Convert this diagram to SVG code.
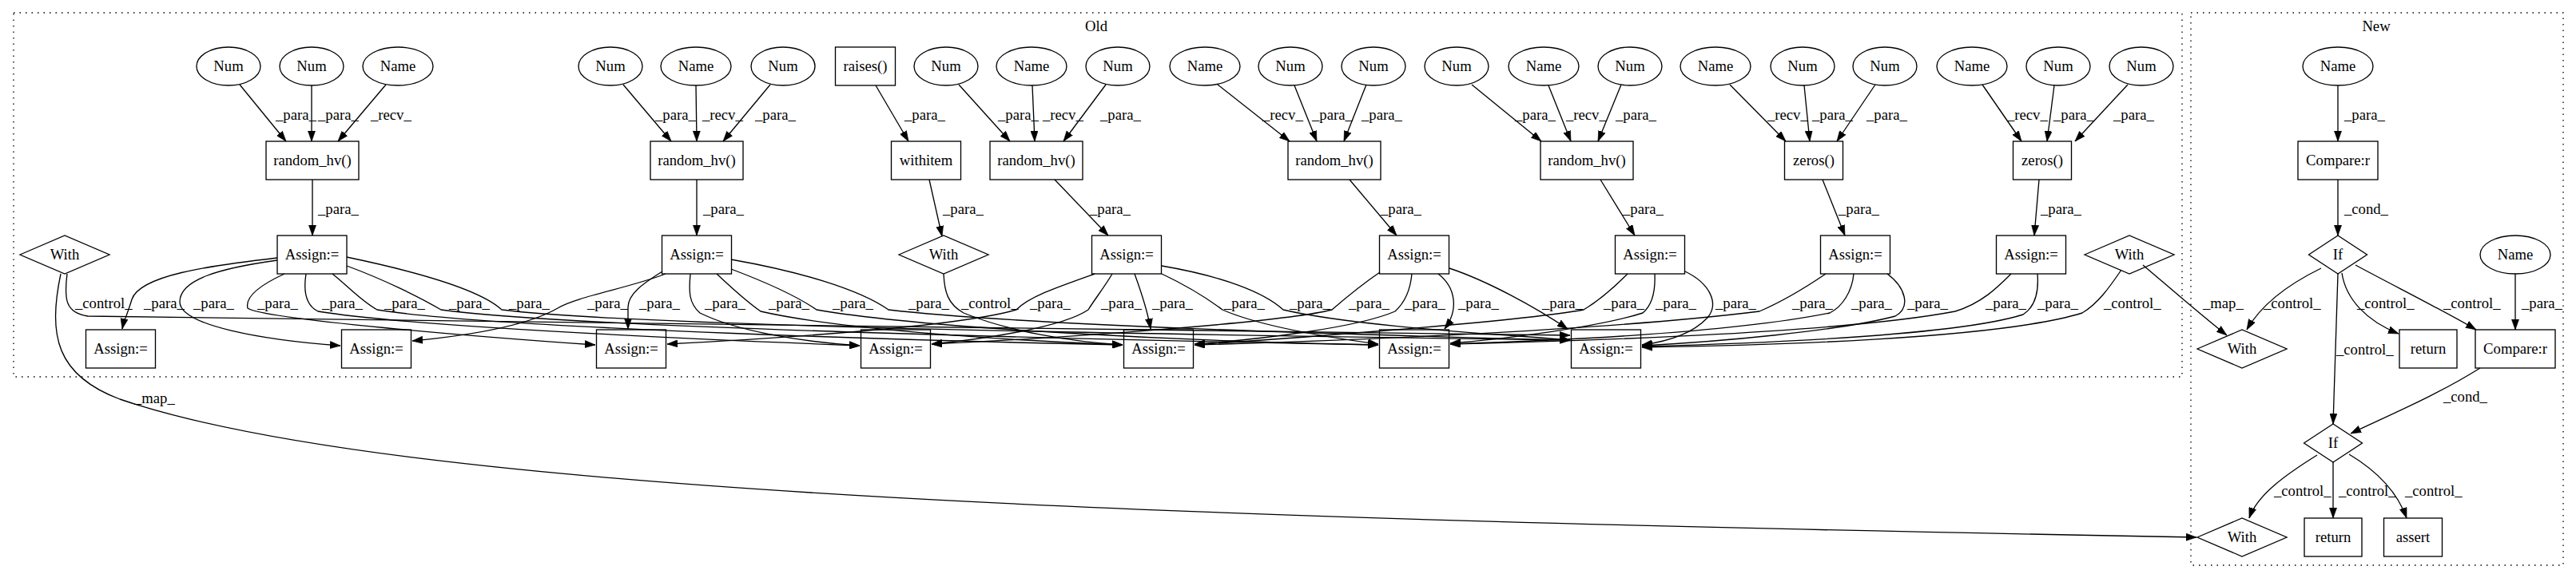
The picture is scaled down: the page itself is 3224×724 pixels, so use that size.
<svg xmlns="http://www.w3.org/2000/svg" width="3224" height="724" viewBox="0 0 3224 724">
<style>
.s{fill:none;stroke:#000;stroke-width:1.33}
.c{fill:none;stroke:#000;stroke-width:1.33;stroke-dasharray:1.5,6}
.t{font-family:"Liberation Serif","Times New Roman",serif;font-size:18.67px;text-anchor:middle;fill:#000}
.l{font-family:"Liberation Serif","Times New Roman",serif;font-size:18.67px;text-anchor:start;fill:#000}
.e{fill:none;stroke:#000;stroke-width:1.33;marker-end:url(#a)}
.m{fill:none;stroke:#000;stroke-width:1.33}
</style>
<defs>
<marker id="a" viewBox="0 0 10 7" refX="10" refY="3.5" markerWidth="13" markerHeight="9.5" markerUnits="userSpaceOnUse" orient="auto">
<path d="M0,0 L10,3.5 L0,7 z" fill="#000" stroke="#000" stroke-width="0.5"/>
</marker>
</defs>
<rect x="0" y="0" width="3224" height="724" fill="#fff"/>
<g id="clusters">
<rect class="c" x="17" y="16" width="2714" height="456"/>
<text class="t" x="1372" y="39">Old</text>
<rect class="c" x="2742" y="16" width="466" height="692"/>
<text class="t" x="2974" y="39">New</text>
</g>
<!-- top ellipses -->
<g id="n_num1"><ellipse class="s" cx="286" cy="83" rx="40" ry="24"/><text class="t" x="286" y="89">Num</text></g>
<g id="n_num2"><ellipse class="s" cx="390" cy="83" rx="40" ry="24"/><text class="t" x="390" y="89">Num</text></g>
<g id="n_name1"><ellipse class="s" cx="498" cy="83" rx="44" ry="24"/><text class="t" x="498" y="89">Name</text></g>
<g id="n_num3"><ellipse class="s" cx="764" cy="83" rx="40" ry="24"/><text class="t" x="764" y="89">Num</text></g>
<g id="n_name2"><ellipse class="s" cx="871" cy="83" rx="44" ry="24"/><text class="t" x="871" y="89">Name</text></g>
<g id="n_num4"><ellipse class="s" cx="980" cy="83" rx="40" ry="24"/><text class="t" x="980" y="89">Num</text></g>
<g id="n_raises"><rect class="s" x="1045.5" y="59" width="75" height="48"/><text class="t" x="1083" y="89">raises()</text></g>
<g id="n_num5"><ellipse class="s" cx="1184" cy="83" rx="40" ry="24"/><text class="t" x="1184" y="89">Num</text></g>
<g id="n_name3"><ellipse class="s" cx="1291" cy="83" rx="44" ry="24"/><text class="t" x="1291" y="89">Name</text></g>
<g id="n_num6"><ellipse class="s" cx="1399" cy="83" rx="40" ry="24"/><text class="t" x="1399" y="89">Num</text></g>
<g id="n_name4"><ellipse class="s" cx="1508" cy="83" rx="44" ry="24"/><text class="t" x="1508" y="89">Name</text></g>
<g id="n_num7"><ellipse class="s" cx="1615" cy="83" rx="40" ry="24"/><text class="t" x="1615" y="89">Num</text></g>
<g id="n_num8"><ellipse class="s" cx="1719" cy="83" rx="40" ry="24"/><text class="t" x="1719" y="89">Num</text></g>
<g id="n_num9"><ellipse class="s" cx="1823" cy="83" rx="40" ry="24"/><text class="t" x="1823" y="89">Num</text></g>
<g id="n_name5"><ellipse class="s" cx="1932" cy="83" rx="44" ry="24"/><text class="t" x="1932" y="89">Name</text></g>
<g id="n_num10"><ellipse class="s" cx="2040" cy="83" rx="40" ry="24"/><text class="t" x="2040" y="89">Num</text></g>
<g id="n_name6"><ellipse class="s" cx="2147" cy="83" rx="44" ry="24"/><text class="t" x="2147" y="89">Name</text></g>
<g id="n_num11"><ellipse class="s" cx="2256" cy="83" rx="40" ry="24"/><text class="t" x="2256" y="89">Num</text></g>
<g id="n_num12"><ellipse class="s" cx="2359" cy="83" rx="40" ry="24"/><text class="t" x="2359" y="89">Num</text></g>
<g id="n_name7"><ellipse class="s" cx="2468" cy="83" rx="44" ry="24"/><text class="t" x="2468" y="89">Name</text></g>
<g id="n_num13"><ellipse class="s" cx="2576" cy="83" rx="40" ry="24"/><text class="t" x="2576" y="89">Num</text></g>
<g id="n_num14"><ellipse class="s" cx="2680" cy="83" rx="40" ry="24"/><text class="t" x="2680" y="89">Num</text></g>
<g id="n_name8"><ellipse class="s" cx="2926" cy="83" rx="44" ry="24"/><text class="t" x="2926" y="89">Name</text></g>
<!-- row 2 -->
<g id="n_rhv1"><rect class="s" x="333" y="177" width="116" height="48"/><text class="t" x="391" y="207">random_hv()</text></g>
<g id="n_rhv2"><rect class="s" x="814" y="177" width="116" height="48"/><text class="t" x="872" y="207">random_hv()</text></g>
<g id="n_withitem"><rect class="s" x="1115.5" y="177" width="87" height="48"/><text class="t" x="1159" y="207">withitem</text></g>
<g id="n_rhv3"><rect class="s" x="1239" y="177" width="116" height="48"/><text class="t" x="1297" y="207">random_hv()</text></g>
<g id="n_rhv4"><rect class="s" x="1612" y="177" width="116" height="48"/><text class="t" x="1670" y="207">random_hv()</text></g>
<g id="n_rhv5"><rect class="s" x="1928" y="177" width="116" height="48"/><text class="t" x="1986" y="207">random_hv()</text></g>
<g id="n_zeros1"><rect class="s" x="2233.5" y="177" width="73" height="48"/><text class="t" x="2270" y="207">zeros()</text></g>
<g id="n_zeros2"><rect class="s" x="2519.5" y="177" width="73" height="48"/><text class="t" x="2556" y="207">zeros()</text></g>
<g id="n_cmp1"><rect class="s" x="2876" y="177" width="100" height="48"/><text class="t" x="2926" y="207">Compare:r</text></g>
<!-- row 3 -->
<g id="n_withL"><polygon class="s" points="25,319 81,295 137,319 81,343"/><text class="t" x="81" y="325">With</text></g>
<g id="n_a1"><rect class="s" x="347" y="295" width="87" height="48"/><text class="t" x="390.5" y="325">Assign:=</text></g>
<g id="n_a2"><rect class="s" x="828.5" y="295" width="87" height="48"/><text class="t" x="872" y="325">Assign:=</text></g>
<g id="n_withM"><polygon class="s" points="1125,319 1181,295 1237,319 1181,343"/><text class="t" x="1181" y="325">With</text></g>
<g id="n_a3"><rect class="s" x="1366.5" y="295" width="87" height="48"/><text class="t" x="1410" y="325">Assign:=</text></g>
<g id="n_a4"><rect class="s" x="1726.5" y="295" width="87" height="48"/><text class="t" x="1770" y="325">Assign:=</text></g>
<g id="n_a5"><rect class="s" x="2021.5" y="295" width="87" height="48"/><text class="t" x="2065" y="325">Assign:=</text></g>
<g id="n_a6"><rect class="s" x="2278.5" y="295" width="87" height="48"/><text class="t" x="2322" y="325">Assign:=</text></g>
<g id="n_a7"><rect class="s" x="2498.5" y="295" width="87" height="48"/><text class="t" x="2542" y="325">Assign:=</text></g>
<g id="n_withR"><polygon class="s" points="2609,319 2665,295 2721,319 2665,343"/><text class="t" x="2665" y="325">With</text></g>
<g id="n_if1"><polygon class="s" points="2889.5,319 2926,295 2962.5,319 2926,343"/><text class="t" x="2926" y="325">If</text></g>
<g id="n_name9"><ellipse class="s" cx="3148" cy="319" rx="44" ry="24"/><text class="t" x="3148" y="325">Name</text></g>
<!-- row 4 -->
<g id="n_b1"><rect class="s" x="107.5" y="413" width="87" height="48"/><text class="t" x="151" y="443">Assign:=</text></g>
<g id="n_b2"><rect class="s" x="427.5" y="413" width="87" height="48"/><text class="t" x="471" y="443">Assign:=</text></g>
<g id="n_b3"><rect class="s" x="746.5" y="413" width="87" height="48"/><text class="t" x="790" y="443">Assign:=</text></g>
<g id="n_b4"><rect class="s" x="1077.5" y="413" width="87" height="48"/><text class="t" x="1121" y="443">Assign:=</text></g>
<g id="n_b5"><rect class="s" x="1406.5" y="413" width="87" height="48"/><text class="t" x="1450" y="443">Assign:=</text></g>
<g id="n_b6"><rect class="s" x="1726.5" y="413" width="87" height="48"/><text class="t" x="1770" y="443">Assign:=</text></g>
<g id="n_b7"><rect class="s" x="1966.5" y="413" width="87" height="48"/><text class="t" x="2010" y="443">Assign:=</text></g>
<g id="n_with2"><polygon class="s" points="2750,437 2806,413 2862,437 2806,461"/><text class="t" x="2806" y="443">With</text></g>
<g id="n_ret1"><rect class="s" x="3003" y="413" width="72" height="48"/><text class="t" x="3039" y="443">return</text></g>
<g id="n_cmp2"><rect class="s" x="3098" y="413" width="100" height="48"/><text class="t" x="3148" y="443">Compare:r</text></g>
<!-- row 5/6 -->
<g id="n_if2"><polygon class="s" points="2883.5,555 2920,531 2956.5,555 2920,579"/><text class="t" x="2920" y="561">If</text></g>
<g id="n_with3"><polygon class="s" points="2750,673 2806,649 2862,673 2806,697"/><text class="t" x="2806" y="679">With</text></g>
<g id="n_ret2"><rect class="s" x="2884" y="649" width="72" height="48"/><text class="t" x="2920" y="679">return</text></g>
<g id="n_assert"><rect class="s" x="2983.5" y="649" width="73" height="48"/><text class="t" x="3020" y="679">assert</text></g>

<g id="edges">
<!-- top -> row2 -->
<path class="e" d="M300,106 L358,177"/><text class="l" x="345" y="150">_para_</text>
<path class="e" d="M390,107 L390,177"/><text class="l" x="398" y="150">_para_</text>
<path class="e" d="M483,106 L423,177"/><text class="l" x="464" y="150">_recv_</text>
<path class="e" d="M780,106 L840,177"/><text class="l" x="820" y="150">_para_</text>
<path class="e" d="M871,107 L872,177"/><text class="l" x="879" y="150">_recv_</text>
<path class="e" d="M964,106 L905,177"/><text class="l" x="945" y="150">_para_</text>
<path class="e" d="M1096,107 L1137,177"/><text class="l" x="1132" y="150">_para_</text>
<path class="e" d="M1200,106 L1264,177"/><text class="l" x="1249" y="150">_para_</text>
<path class="e" d="M1292,107 L1295,177"/><text class="l" x="1305" y="150">_recv_</text>
<path class="e" d="M1384,106 L1331,177"/><text class="l" x="1377" y="150">_para_</text>
<path class="e" d="M1524,106 L1614,177"/><text class="l" x="1580" y="150">_recv_</text>
<path class="e" d="M1620,107 L1648,177"/><text class="l" x="1642" y="150">_para_</text>
<path class="e" d="M1710,106 L1682,177"/><text class="l" x="1704" y="150">_para_</text>
<path class="e" d="M1842,106 L1929,177"/><text class="l" x="1896" y="150">_para_</text>
<path class="e" d="M1938,107 L1966,177"/><text class="l" x="1960" y="150">_recv_</text>
<path class="e" d="M2029,106 L2000,177"/><text class="l" x="2022" y="150">_para_</text>
<path class="e" d="M2165,106 L2235,177"/><text class="l" x="2212" y="150">_recv_</text>
<path class="e" d="M2258,107 L2265,177"/><text class="l" x="2268" y="150">_para_</text>
<path class="e" d="M2347,106 L2299,177"/><text class="l" x="2336" y="150">_para_</text>
<path class="e" d="M2481,106 L2530,177"/><text class="l" x="2512" y="150">_recv_</text>
<path class="e" d="M2571,107 L2562,177"/><text class="l" x="2570" y="150">_para_</text>
<path class="e" d="M2663,106 L2597,177"/><text class="l" x="2645" y="150">_para_</text>
<path class="e" d="M2926,107 L2926,177"/><text class="l" x="2934" y="150">_para_</text>
<!-- row2 -> row3 -->
<path class="e" d="M391,225 L391,295"/><text class="l" x="398" y="268">_para_</text>
<path class="e" d="M872,225 L872,295"/><text class="l" x="880" y="268">_para_</text>
<path class="e" d="M1163,225 L1179,296"/><text class="l" x="1180" y="268">_para_</text>
<path class="e" d="M1320,225 L1387,295"/><text class="l" x="1364" y="268">_para_</text>
<path class="e" d="M1689,225 L1748,295"/><text class="l" x="1728" y="268">_para_</text>
<path class="e" d="M2003,225 L2046,295"/><text class="l" x="2031" y="268">_para_</text>
<path class="e" d="M2281,225 L2309,295"/><text class="l" x="2301" y="268">_para_</text>
<path class="e" d="M2552,225 L2546,295"/><text class="l" x="2554" y="268">_para_</text>
<path class="e" d="M2926,225 L2926,295"/><text class="l" x="2934" y="268">_cond_</text>
<!-- row3 -> row4 (Old) -->
<path class="e" d="M84,343 C80,375 82,392 110,396 C600,404 1500,412 1965,420"/><text class="l" x="94" y="386">_control_</text>
<path class="e" d="M347,323 C260,333 175,345 165,375 C160,392 155,402 153,412"/><text class="l" x="180" y="386">_para_</text>
<path class="e" d="M347,326 C275,336 225,350 225,378 C225,408 330,426 426,433"/><text class="l" x="242" y="386">_para_</text>
<path class="e" d="M356,343 C330,355 306,370 310,386 C330,400 600,422 745,432"/><text class="l" x="322" y="386">_para_</text>
<path class="e" d="M383,343 C380,362 382,382 398,390 C520,410 900,426 1076,433"/><text class="l" x="403" y="386">_para_</text>
<path class="e" d="M416,343 C435,358 452,377 472,388 C620,412 1200,428 1405,432"/><text class="l" x="481" y="386">_para_</text>
<path class="e" d="M434,333 C480,350 525,372 552,388 C720,412 1500,428 1725,432"/><text class="l" x="562" y="386">_para_</text>
<path class="e" d="M434,322 C520,340 600,362 628,388 C820,412 1700,422 1965,426"/><text class="l" x="637" y="386">_para_</text>
<path class="e" d="M833,343 C790,360 720,372 698,386 C660,408 590,420 516,427"/><text class="l" x="735" y="386">_para_</text>
<path class="e" d="M829,340 C805,355 786,368 786,385 L786,412"/><text class="l" x="800" y="386">_para_</text>
<path class="e" d="M864,343 C862,365 862,380 876,392 C920,414 1000,428 1076,433"/><text class="l" x="882" y="386">_para_</text>
<path class="e" d="M897,343 C915,360 932,376 952,390 C1060,415 1300,428 1405,432"/><text class="l" x="962" y="386">_para_</text>
<path class="e" d="M915,337 C960,354 996,370 1022,388 C1160,412 1500,428 1725,432"/><text class="l" x="1042" y="386">_para_</text>
<path class="e" d="M915,325 C1000,340 1075,362 1112,388 C1300,410 1800,422 1965,426"/><text class="l" x="1137" y="386">_para_</text>
<path class="e" d="M1181,343 C1182,365 1186,381 1206,392 C1262,415 1340,428 1405,432"/><text class="l" x="1203" y="386">_control_</text>
<path class="e" d="M1370,343 C1322,360 1287,372 1272,388 C1200,410 950,425 835,431"/><text class="l" x="1289" y="386">_para_</text>
<path class="e" d="M1392,343 C1382,360 1370,375 1362,388 C1330,410 1230,425 1166,431"/><text class="l" x="1378" y="386">_para_</text>
<path class="e" d="M1420,343 C1428,365 1436,388 1440,412"/><text class="l" x="1442" y="386">_para_</text>
<path class="e" d="M1454,343 C1490,360 1514,376 1530,388 C1580,410 1680,425 1725,431"/><text class="l" x="1532" y="386">_para_</text>
<path class="e" d="M1454,333 C1530,346 1582,366 1606,388 C1700,410 1900,420 1965,426"/><text class="l" x="1614" y="386">_para_</text>
<path class="e" d="M1727,341 C1702,358 1682,375 1667,388 C1600,405 1300,425 1166,431"/><text class="l" x="1688" y="386">_para_</text>
<path class="e" d="M1767,343 C1765,365 1757,380 1746,390 C1700,410 1580,425 1495,431"/><text class="l" x="1758" y="386">_para_</text>
<path class="e" d="M1800,343 C1822,360 1826,388 1808,412"/><text class="l" x="1825" y="386">_para_</text>
<path class="e" d="M1814,336 C1862,352 1922,385 1962,412"/><text class="l" x="1930" y="386">_para_</text>
<path class="e" d="M2037,343 C2020,360 2002,376 1982,388 C1900,403 1600,425 1495,432"/><text class="l" x="2007" y="386">_para_</text>
<path class="e" d="M2071,343 C2072,365 2068,382 2056,392 C2000,410 1880,425 1815,430"/><text class="l" x="2072" y="386">_para_</text>
<path class="e" d="M2109,340 C2140,355 2152,380 2137,398 C2118,418 2086,428 2055,432"/><text class="l" x="2147" y="386">_para_</text>
<path class="e" d="M2285,343 C2260,360 2230,378 2202,390 C2000,415 1650,428 1495,432"/><text class="l" x="2243" y="386">_para_</text>
<path class="e" d="M2320,343 C2318,365 2306,384 2290,392 C2150,420 1900,428 1815,431"/><text class="l" x="2317" y="386">_para_</text>
<path class="e" d="M2362,343 C2385,360 2392,385 2372,396 C2300,415 2150,428 2055,433"/><text class="l" x="2387" y="386">_para_</text>
<path class="e" d="M2517,343 C2500,360 2480,380 2447,390 C2300,418 1950,428 1815,431"/><text class="l" x="2485" y="386">_para_</text>
<path class="e" d="M2550,343 C2552,368 2546,385 2532,394 C2450,420 2200,430 2055,434"/><text class="l" x="2550" y="386">_para_</text>
<path class="e" d="M2655,338 C2640,360 2626,380 2606,392 C2500,425 2200,433 2055,435"/><text class="l" x="2633" y="386">_control_</text>
<path class="e" d="M2682,332 C2715,360 2755,395 2787,420"/><text class="l" x="2757" y="386">_map_</text>
<!-- long map edge -->
<path class="e" d="M76,343 C60,420 70,470 150,500 C500,620 1500,650 2749,673"/><text class="l" x="168" y="505">_map_</text>
<!-- New cluster -->
<path class="e" d="M2905,336 C2860,358 2828,385 2812,413"/><text class="l" x="2833" y="386">_control_</text>
<path class="e" d="M2926,343 L2920,531"/><text class="l" x="2924" y="444">_control_</text>
<path class="e" d="M2931,342 C2936,375 2962,402 3002,418"/><text class="l" x="2950" y="386">_control_</text>
<path class="e" d="M2948,332 C3000,360 3060,390 3099,413"/><text class="l" x="3058" y="386">_control_</text>
<path class="e" d="M3148,343 L3148,413"/><text class="l" x="3156" y="386">_para_</text>
<path class="e" d="M3104,461 C3050,495 2990,520 2942,543"/><text class="l" x="3058" y="503">_cond_</text>
<path class="e" d="M2900,570 C2860,595 2825,620 2815,649"/><text class="l" x="2846" y="621">_control_</text>
<path class="e" d="M2920,579 L2920,649"/><text class="l" x="2927" y="621">_control_</text>
<path class="e" d="M2940,569 C2975,590 3000,615 3012,649"/><text class="l" x="3010" y="621">_control_</text>
</g>
</svg>
